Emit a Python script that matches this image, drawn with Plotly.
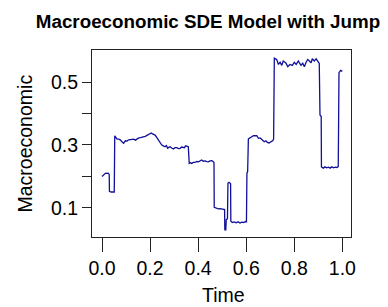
import plotly.graph_objects as go

time = [0.000, 0.005, 0.010, 0.015, 0.020, 0.026, 0.030, 0.031, 0.038, 0.045, 0.051,
        0.053, 0.058, 0.062, 0.069, 0.076, 0.083, 0.090, 0.097, 0.104, 0.111, 0.118,
        0.125, 0.132, 0.139, 0.146, 0.153, 0.160, 0.166, 0.173, 0.180, 0.187, 0.194,
        0.200, 0.205, 0.210, 0.215, 0.221, 0.229, 0.234, 0.241, 0.248, 0.255, 0.262,
        0.268, 0.273, 0.278, 0.283, 0.290, 0.297, 0.304, 0.311, 0.318, 0.325, 0.331,
        0.338, 0.343, 0.348, 0.354, 0.359, 0.363, 0.368, 0.373, 0.380, 0.387, 0.394,
        0.401, 0.408, 0.415, 0.422, 0.429, 0.436, 0.442, 0.450, 0.457, 0.462, 0.466,
        0.467, 0.475, 0.484, 0.492, 0.500, 0.506, 0.510, 0.511, 0.515, 0.517, 0.522,
        0.524, 0.528, 0.532, 0.535, 0.536, 0.542, 0.550, 0.558, 0.566, 0.574, 0.582,
        0.590, 0.597, 0.601, 0.603, 0.606, 0.609, 0.616, 0.623, 0.630, 0.637, 0.644,
        0.651, 0.658, 0.665, 0.670, 0.675, 0.682, 0.688, 0.695, 0.700, 0.706, 0.711,
        0.714, 0.717, 0.722, 0.727, 0.734, 0.741, 0.748, 0.754, 0.760, 0.765, 0.773,
        0.782, 0.792, 0.800, 0.808, 0.817, 0.822, 0.828, 0.835, 0.842, 0.849, 0.856,
        0.863, 0.870, 0.875, 0.883, 0.891, 0.897, 0.904, 0.907, 0.912, 0.913, 0.921,
        0.928, 0.935, 0.942, 0.949, 0.956, 0.963, 0.970, 0.977, 0.983, 0.986, 0.993,
        1.000]

macro = [0.199, 0.203, 0.208, 0.210, 0.209, 0.210, 0.206, 0.152, 0.150, 0.151, 0.150,
         0.329, 0.322, 0.319, 0.318, 0.316, 0.310, 0.305, 0.313, 0.312, 0.316, 0.317,
         0.319, 0.318, 0.315, 0.320, 0.322, 0.323, 0.324, 0.326, 0.327, 0.330, 0.333,
         0.336, 0.338, 0.335, 0.333, 0.331, 0.322, 0.316, 0.305, 0.300, 0.297, 0.294,
         0.298, 0.289, 0.292, 0.294, 0.290, 0.287, 0.291, 0.291, 0.288, 0.289, 0.293,
         0.292, 0.291, 0.297, 0.296, 0.294, 0.241, 0.243, 0.241, 0.244, 0.244, 0.247,
         0.246, 0.250, 0.252, 0.248, 0.249, 0.247, 0.246, 0.249, 0.250, 0.247, 0.244,
         0.101, 0.099, 0.096, 0.097, 0.095, 0.096, 0.094, 0.030, 0.029, 0.062, 0.065,
         0.178, 0.181, 0.179, 0.176, 0.057, 0.053, 0.055, 0.052, 0.055, 0.051, 0.054,
         0.053, 0.056, 0.055, 0.210, 0.215, 0.319, 0.324, 0.326, 0.329, 0.328, 0.329,
         0.321, 0.322, 0.317, 0.314, 0.310, 0.313, 0.308, 0.306, 0.309, 0.311, 0.314,
         0.319, 0.576, 0.574, 0.572, 0.556, 0.563, 0.553, 0.567, 0.564, 0.561, 0.549,
         0.556, 0.553, 0.563, 0.556, 0.567, 0.560, 0.553, 0.560, 0.549, 0.563, 0.572,
         0.567, 0.561, 0.574, 0.567, 0.574, 0.565, 0.559, 0.395, 0.390, 0.230, 0.226,
         0.230, 0.227, 0.229, 0.226, 0.230, 0.227, 0.229, 0.228, 0.231, 0.530, 0.537,
         0.534]

x_ticks = [0.0, 0.2, 0.4, 0.6, 0.8, 1.0]
x_labels = ["0.0", "0.2", "0.4", "0.6", "0.8", "1.0"]
y_ticks = [0.1, 0.2, 0.3, 0.4, 0.5]
y_labels = ["0.1", "", "0.3", "", "0.5"]
x_title = "Time"
y_title = "Macroeconomic"

FONT = "Liberation Sans, Arial, sans-serif"

fig = go.Figure()
fig.add_trace(go.Scatter(x=time, y=macro, mode="lines",
                         line=dict(color="#10109a", width=1.3),
                         showlegend=False, hoverinfo="skip"))

fig.update_layout(
    width=388, height=307,
    margin=dict(l=92, r=37, t=50, b=70, autoexpand=False),
    paper_bgcolor="white", plot_bgcolor="white",
    font=dict(family=FONT, size=19.5, color="black"),
    title=dict(text="<b>Macroeconomic SDE Model with Jump</b>",
               font=dict(family=FONT, size=18.8, color="black"),
               x=208 / 388, xref="container", xanchor="center",
               y=1 - 21 / 307, yref="container", yanchor="middle"),
    xaxis=dict(range=[-0.0416, 1.036], tickvals=x_ticks, ticktext=x_labels,
               ticks="outside", ticklen=14, tickwidth=1, tickcolor="#222",
               showline=True, linecolor="#222", linewidth=1, mirror=True,
               showgrid=False, zeroline=False),
    yaxis=dict(range=[0.0067, 0.602], tickvals=y_ticks, ticktext=y_labels,
               ticks="outside", ticklen=9, tickwidth=1, tickcolor="#222",
               showline=True, linecolor="#222", linewidth=1, mirror=True,
               showgrid=False, zeroline=False),
    annotations=[
        dict(text=x_title, xref="paper", yref="paper",
             x=(223 - 92) / 259, y=(237 - 295) / 187,
             xanchor="center", yanchor="middle", showarrow=False,
             font=dict(family=FONT, size=19.5, color="black")),
        dict(text=y_title, xref="paper", yref="paper",
             x=(24 - 92) / 259, y=0.5, textangle=-90,
             xanchor="center", yanchor="middle", showarrow=False,
             font=dict(family=FONT, size=19.5, color="black")),
    ],
)

fig.write_html("out.html", config={"displayModeBar": False},
               post_script="document.body.style.margin='0';document.body.style.padding='0';")
